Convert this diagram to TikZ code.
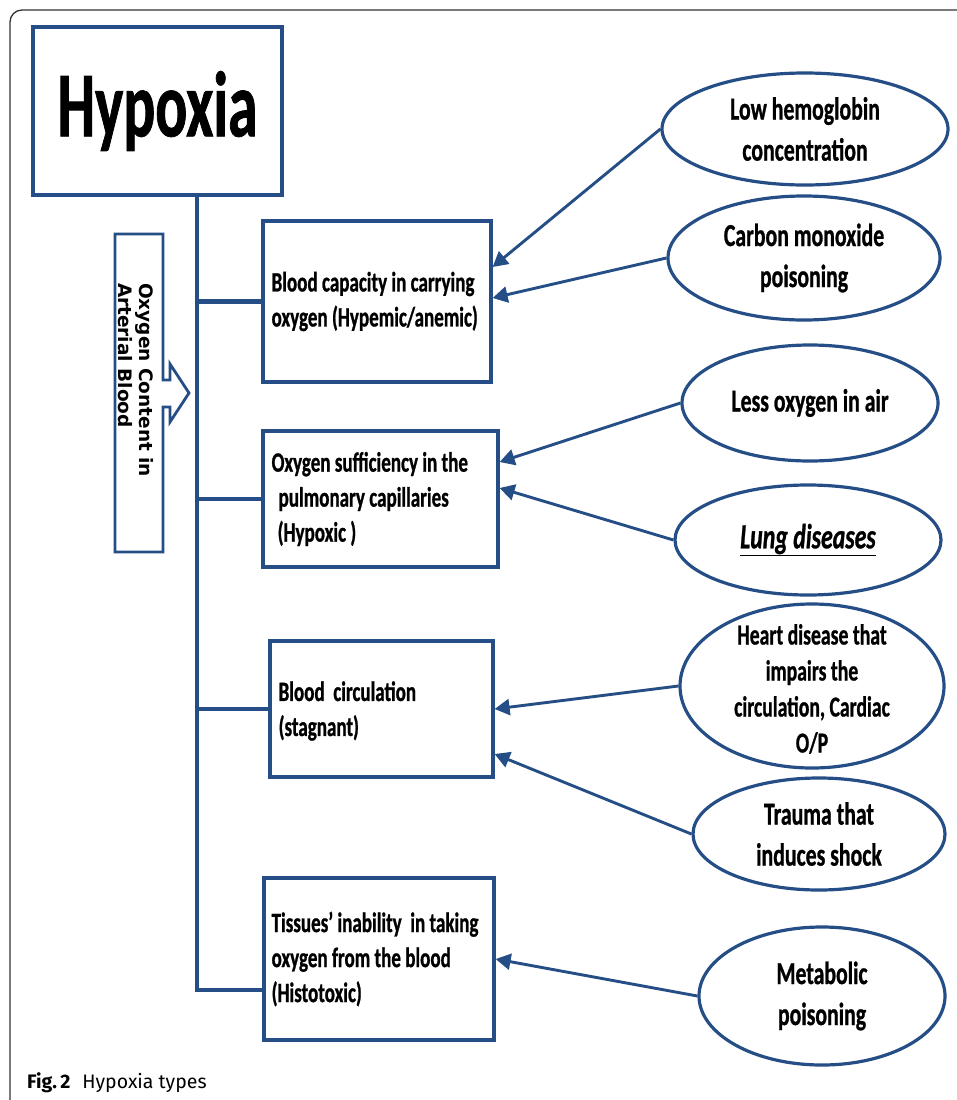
\documentclass[tikz,border=0pt]{standalone}
\usepackage{fontspec}
\setmainfont{Carlito}
\newfontfamily\narrowfont[FakeStretch=0.68,FakeBold=0.8]{Carlito}
\newfontfamily\titlefont[FakeStretch=0.64,FakeBold=0.8]{Carlito}
\newfontfamily\vertfont{DejaVu Sans}
\newfontfamily\capfont{Fira Sans}
\usetikzlibrary{shapes.geometric,arrows.meta,calc}
\definecolor{navy}{HTML}{254E86}
\definecolor{framegray}{HTML}{333333}

\begin{document}
\begin{tikzpicture}[x=1pt,y=-1pt,
  box/.style={draw=navy,line width=3.2pt,rectangle,inner sep=0pt},
  boxtext/.style={anchor=west,align=left,inner sep=0pt,
    font=\narrowfont\bfseries\fontsize{28}{35}\selectfont},
  cause/.style={draw=navy,line width=3.2pt,ellipse,inner sep=0pt},
  causetext/.style={align=center,inner sep=0pt,
    font=\narrowfont\bfseries\fontsize{32}{41}\selectfont},
  feed/.style={draw=navy,line width=2.9pt,-{Triangle[length=15pt,width=16pt]}},
  trunk/.style={draw=navy,line width=4.3pt},
]
\useasboundingbox (0,0) rectangle (957,1100);

% outer figure frame
\draw[framegray,line width=1.3pt,rounded corners=12pt] (957,10) -- (10,10) -- (10,1100);

% title box
\node[box,minimum width=249pt,minimum height=168pt,
      font=\titlefont\bfseries\fontsize{93}{100}\selectfont] (hyp) at (157.5,111) {Hypoxia};

% the four hypoxia types
\node[box,minimum width=228pt,minimum height=161pt] (b1) at (377,301.5) {};
\node[boxtext] (t1) at ([xshift=10pt]b1.west) {Blood capacity in carrying\\oxygen (Hypemic/anemic)};

\node[box,minimum width=235pt,minimum height=136pt] (b2) at (380.5,499) {};
\node[boxtext] (t2) at ([xshift=10pt]b2.west) {Oxygen sufficiency in the\\\hspace*{7pt}pulmonary capillaries\\\hspace*{6pt}(Hypoxic )};

\node[box,minimum width=223pt,minimum height=136pt] (b3) at (381.5,709) {};
\node[boxtext] (t3) at ([xshift=10pt,yshift=-2pt]b3.west) {Blood\ \ circulation\\(stagnant)};

\node[box,minimum width=230pt,minimum height=162pt] (b4) at (379,959) {};
\node[boxtext] (t4) at ([xshift=9pt]b4.west) {Tissues’ inability\ \ in taking\\oxygen from the blood\\(Histotoxic)};

% trunk and branches
\coordinate (trunktop) at ([xshift=39.5pt]hyp.south);
\coordinate (b4in) at ([yshift=-31pt]b4.west);
\coordinate (trunkbot) at (trunktop |- b4in);
\draw[trunk] (trunktop) -- (trunkbot) -- (b4in);
\draw[trunk] (trunktop |- b1.west) -- (b1.west);
\draw[trunk] (trunktop |- b2.west) -- (b2.west);
\draw[trunk] (trunktop |- b3.west) -- (b3.west);

% side callout with arrow
\draw[navy,line width=2.8pt,line join=miter]
  (115,234) -- (163,234) -- (163,380) -- (170,380) -- (170,364) -- (189,393)
  -- (170,422) -- (170,407) -- (163,407) -- (163,552) -- (115,552) -- cycle;
\node[rotate=-90,align=left,inner sep=0pt,
      font=\vertfont\bfseries\fontsize{18.5}{21}\selectfont] (o2) at (136,380)
  {Oxygen Content in\\Arterial Blood};

% causes
\node[cause,minimum width=286pt,minimum height=112pt] (e1) at (805,129) {};
\node[causetext] (c1) at (e1) {Low hemoglobin\\concentration};

\node[cause,minimum width=272pt,minimum height=124pt] (e2) at (804,258) {};
\node[causetext] (c2) at (e2) {Carbon monoxide\\poisoning};

\node[cause,minimum width=256pt,minimum height=116pt] (e3) at (810,403) {};
\node[causetext] (c3) at (e3) {Less oxygen in air};

\node[cause,minimum width=266pt,minimum height=110pt] (e4) at (808,540) {};
\node[causetext,font=\narrowfont\bfseries\fontsize{35}{41}\selectfont] (c4) at (e4)
  {\underline{\textit{Lung diseases}}};

\node[cause,minimum width=264pt,minimum height=164pt] (e5) at (812,686) {};
\node[causetext,font=\narrowfont\bfseries\fontsize{29}{36}\selectfont] (c5) at ([yshift=-3pt]e5)
  {Heart disease that\\impairs the\\circulation, Cardiac\\O/P};

\node[cause,minimum width=252pt,minimum height=112pt] (e6) at (819,834) {};
\node[causetext] (c6) at (e6) {Trauma that\\induces shock};

\node[cause,minimum width=246pt,minimum height=138pt] (e7) at (822,996) {};
\node[causetext] (c7) at (e7) {Metabolic\\poisoning};

% cause arrows
\draw[feed] (e1.west) -- ([yshift=34.5pt]b1.east);
\draw[feed] (e2.west) -- ([yshift=3.5pt]b1.east);
\draw[feed] (e3.west) -- ([yshift=37pt]b2.east);
\draw[feed] (e4.west) -- ([yshift=11pt]b2.east);
\draw[feed] (e5.west) -- (b3.east);
\draw[feed] (e6.west) -- ([yshift=-45pt]b3.east);
\draw[feed] (e7.west) -- (b4.east);

% caption
\node[anchor=base west,inner sep=0pt,font=\capfont\fontsize{19.5}{23}\selectfont] (cap) at (27,1088)
  {\textbf{Fig.\,2}\hspace{12pt}Hypoxia types};
\end{tikzpicture}
\end{document}
